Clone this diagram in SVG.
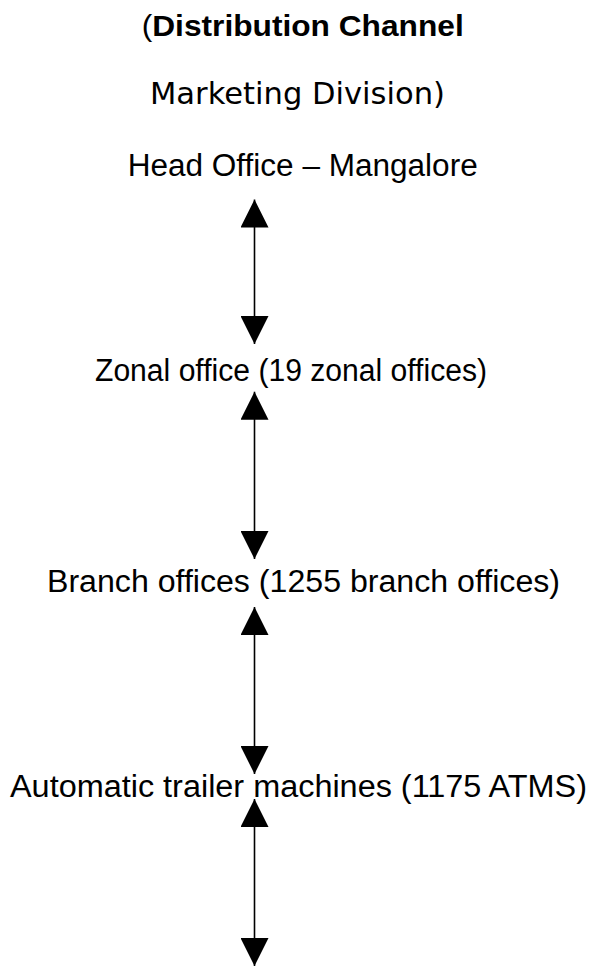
<svg xmlns="http://www.w3.org/2000/svg" width="597" height="966" viewBox="0 0 597 966">
<style>
  .t { font-family: "Liberation Sans", Arial, sans-serif; fill: #000; }
  .v { font-family: "DejaVu Sans", Verdana, sans-serif; fill: #000; }
  .b { font-weight: bold; }
  .c { stroke: #000; stroke-width: 1.6; fill: none; }
</style>
<defs>
  <marker id="ah" markerUnits="userSpaceOnUse" markerWidth="28" markerHeight="28" viewBox="0 0 28 28" refX="28" refY="14" orient="auto-start-reverse">
    <path d="M0,0 L28,14 L0,28 Z" fill="#000"/>
  </marker>
</defs>
<rect width="597" height="966" fill="#fff"/>
<g id="title">
  <text class="t" x="141.7" y="36" font-size="30" textLength="322" lengthAdjust="spacingAndGlyphs">(<tspan class="b">Distribution Channel</tspan></text>
  <text class="v" x="150" y="104.3" font-size="31" textLength="295" lengthAdjust="spacingAndGlyphs">Marketing Division)</text>
</g>
<g id="head-office">
  <text class="t" x="127.7" y="176" font-size="31" textLength="350" lengthAdjust="spacingAndGlyphs">Head Office – Mangalore</text>
</g>
<g id="zonal-office">
  <text class="t" x="95" y="380.5" font-size="31" textLength="392" lengthAdjust="spacingAndGlyphs">Zonal office (19 zonal offices)</text>
</g>
<g id="branch-offices">
  <text class="t" x="47" y="592" font-size="31" textLength="513" lengthAdjust="spacingAndGlyphs">Branch offices (1255 branch offices)</text>
</g>
<g id="atms">
  <text class="t" x="10" y="797" font-size="31" textLength="577" lengthAdjust="spacingAndGlyphs">Automatic trailer machines (1175 ATMS)</text>
</g>
<g id="connectors">
  <line class="c" x1="254.5" y1="199.5" x2="254.5" y2="344" marker-start="url(#ah)" marker-end="url(#ah)"/>
  <line class="c" x1="254.5" y1="391.7" x2="254.5" y2="559" marker-start="url(#ah)" marker-end="url(#ah)"/>
  <line class="c" x1="254.5" y1="607" x2="254.5" y2="774" marker-start="url(#ah)" marker-end="url(#ah)"/>
  <line class="c" x1="254.5" y1="799" x2="254.5" y2="966" marker-start="url(#ah)" marker-end="url(#ah)"/>
</g>
</svg>
